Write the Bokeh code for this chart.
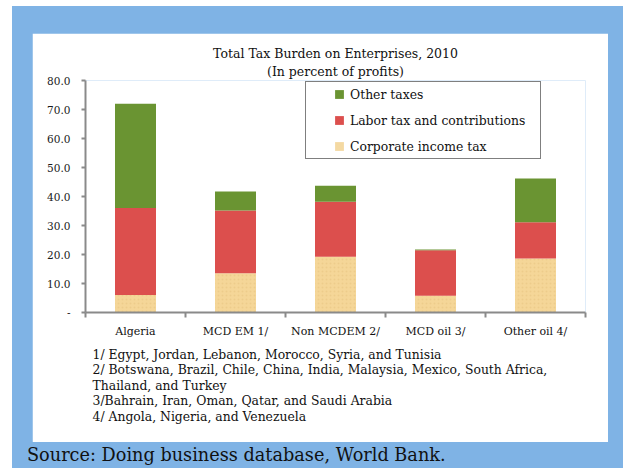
import numpy as np
from bokeh.plotting import figure
from bokeh.models import (ColumnDataSource, Range1d, FixedTicker, Legend, LegendItem,
                          Title, Div, NumeralTickFormatter)
from bokeh.layouts import column
from bokeh.embed import file_html
from bokeh.resources import INLINE

# ---------------- data ----------------
categories = ["Algeria", "MCD EM 1/", "Non MCDEM 2/", "MCD oil 3/", "Other oil 4/"]
corporate_income_tax = [6.0, 13.5, 19.2, 5.8, 18.6]
labor_tax_and_contributions = [30.0, 21.7, 19.0, 15.7, 12.5]
other_taxes = [36.0, 6.5, 5.5, 0.2, 15.1]
series_names = ["Other taxes", "Labor tax and contributions", "Corporate income tax"]
y_ticks = [0, 10, 20, 30, 40, 50, 60, 70, 80]
title_line1 = "Total Tax Burden on Enterprises, 2010"
title_line2 = "(In percent of profits)"
footnotes = [
    "1/ Egypt, Jordan, Lebanon, Morocco, Syria, and Tunisia",
    "2/ Botswana, Brazil, Chile, China, India, Malaysia, Mexico, South Africa,",
    "Thailand, and Turkey",
    "3/Bahrain, Iran, Oman, Qatar, and Saudi Arabia",
    "4/ Angola, Nigeria, and Venezuela",
]
source_text = "Source: Doing business database, World Bank."

# ---------------- styles ----------------
GREEN = "#6A9432"
RED = "#DC4F4D"
TAN = "#F5D698"
BLUE = "#7FB3E5"
AXIS = "#8A8A8A"
SERIF = "DejaVu Serif"
TXT = "#111111"

n = len(categories)
x = np.arange(n) + 0.5
corp = np.array(corporate_income_tax)
lab_top = corp + np.array(labor_tax_and_contributions)
oth_top = lab_top + np.array(other_taxes)
src = ColumnDataSource(dict(x=x, corp=corp, lab_top=lab_top, oth_top=oth_top))

p = figure(width=576, height=409, output_backend="svg", toolbar_location=None,
           x_range=Range1d(0, n), y_range=Range1d(0, 80),
           min_border_left=53, min_border_right=23, min_border_top=47, min_border_bottom=130,
           background_fill_color="white", border_fill_color="white",
           outline_line_color=None, margin=(27, 15, 0, 20))

p.xgrid.visible = False
p.ygrid.visible = False

# bars
p.vbar(x="x", bottom=0, top="corp", width=0.41, source=src, fill_color=TAN, line_color=None,
       hatch_pattern="dot", hatch_color="#E6C27E", hatch_scale=4, hatch_weight=1, hatch_alpha=0.5)
p.vbar(x="x", bottom="corp", top="lab_top", width=0.41, source=src, fill_color=RED, line_color=None)
p.vbar(x="x", bottom="lab_top", top="oth_top", width=0.41, source=src, fill_color=GREEN, line_color=None)

# x axis
xa = p.xaxis[0]
xa.ticker = FixedTicker(ticks=list(x), minor_ticks=list(range(n + 1)))
xa.major_label_overrides = {float(xi): c for xi, c in zip(x, categories)}
xa.major_tick_out = 0
xa.major_tick_in = 0
xa.minor_tick_out = 5
xa.minor_tick_in = 0
xa.minor_tick_line_color = AXIS
xa.minor_tick_line_width = 2
xa.axis_line_color = AXIS
xa.axis_line_width = 2
xa.major_label_standoff = 7
xa.major_label_text_font = SERIF
xa.major_label_text_font_size = "11px"
xa.major_label_text_color = TXT

# y axis
ya = p.yaxis[0]
ya.ticker = FixedTicker(ticks=y_ticks)
ya.formatter = NumeralTickFormatter(format="0.0")
ya.major_label_overrides = {0: "-"}
ya.major_tick_out = 4
ya.major_tick_in = 0
ya.minor_tick_out = 0
ya.minor_tick_in = 0
ya.major_tick_line_color = AXIS
ya.major_tick_line_width = 2
ya.axis_line_color = AXIS
ya.axis_line_width = 2
ya.major_label_standoff = 11
ya.major_label_text_font = SERIF
ya.major_label_text_font_size = "10.5px"
ya.major_label_text_color = "#1a1a1a"

# title (two centred lines)
p.title.text = title_line1
p.title.align = "center"
p.title.text_font = SERIF
p.title.text_font_size = "12.5px"
p.title.text_font_style = "normal"
p.title.text_color = TXT
p.title.standoff = 0
p.add_layout(Title(text=title_line2, align="center", text_font=SERIF, text_font_size="12.5px",
                   text_font_style="normal", text_color=TXT, standoff=3), "above")

# legend (marker renderers with no visible data so the square glyph is small)
nan = [float("nan")]
r_other = p.scatter(x=nan, y=nan, marker="square", fill_color=GREEN, line_color=None)
r_labor = p.scatter(x=nan, y=nan, marker="square", fill_color=RED, line_color=None)
r_corp = p.scatter(x=nan, y=nan, marker="square", fill_color="#F4D9A2", line_color=None)
legend = Legend(items=[LegendItem(label=series_names[0], renderers=[r_other]),
                       LegendItem(label=series_names[1], renderers=[r_labor]),
                       LegendItem(label=series_names[2], renderers=[r_corp])],
                location=(220, 153), padding=1, spacing=4,
                title=" ", title_location="left", title_text_font_size="1px", title_standoff=20,
                glyph_width=22, glyph_height=22, label_height=22, label_width=189,
                label_standoff=0, margin=0,
                border_line_color="black", border_line_width=1,
                background_fill_color="white", background_fill_alpha=1,
                label_text_font=SERIF, label_text_font_size="12.4px",
                label_text_color=TXT)
p.add_layout(legend, "center")

# footnotes below the axis
p.add_layout(Title(text="\n".join(footnotes), align="left", offset=7, standoff=12,
                   vertical_align="top",
                   text_font=SERIF, text_font_size="12.4px", text_font_style="normal",
                   text_color=TXT, text_line_height=1.04), "below")

src_div = Div(text=source_text, width=596, height=26, margin=(0, 0, 0, 15),
              styles={"font-family": SERIF, "font-size": "17.7px", "color": TXT,
                      "line-height": "26px", "white-space": "nowrap"})

layout = column(p, src_div, width=611, height=462, margin=(6, 0, 0, 12),
                styles={"background-color": BLUE})

open("out.html", "w").write(file_html(layout, INLINE))
